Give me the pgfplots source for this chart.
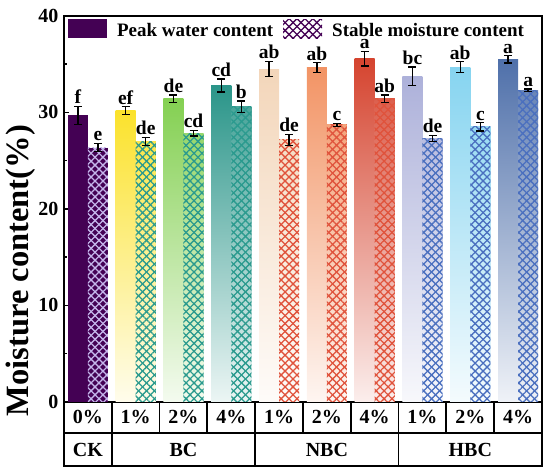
\documentclass[border=0pt]{standalone}
\usepackage{pgfplots}
\pgfplotsset{compat=1.18}
\usetikzlibrary{patterns.meta,calc}
\usepackage{fontspec}
\setmainfont{Liberation Serif}
\definecolor{CKc}{HTML}{440154}
\definecolor{CKh}{HTML}{C4B5EA}
\definecolor{BCa}{HTML}{FBE22C}
\definecolor{BCb}{HTML}{84D052}
\definecolor{BCc}{HTML}{2A9589}
\definecolor{BCh}{HTML}{2A9A8E}
\definecolor{NBa}{HTML}{F3D6BA}
\definecolor{NBb}{HTML}{F29465}
\definecolor{NBc}{HTML}{D5442F}
\definecolor{NBh}{HTML}{E0533C}
\definecolor{HBa}{HTML}{ADB1DA}
\definecolor{HBb}{HTML}{86D4F0}
\definecolor{HBc}{HTML}{4F70AA}
\definecolor{HBh}{HTML}{4A6FBF}
\newcommand{\hd}{5.6pt}
\newcommand{\hw}{1.3pt}
\pgfplotsset{
  hatch/.style={postaction={pattern color=#1, pattern={Lines[angle=45,distance=\hd,line width=\hw]}},
                postaction={pattern color=#1, pattern={Lines[angle=-45,distance=\hd,line width=\hw]}}},
  onebar/.style={ybar, forget plot, bar width=0.42, bar shift=0pt, draw=none},
  peakbar/.style={onebar, top color=#1, bottom color=#1!9!white},
  stableshade/.style={onebar, top color=#1!85!white, bottom color=#1!9!white},
  hatchonly/.style={onebar, fill=none, pattern color=#1, pattern={Lines[angle=45,distance=\hd,line width=\hw]},
                postaction={pattern color=#1, pattern={Lines[angle=-45,distance=\hd,line width=\hw]}}},
}
\newcommand{\lab}[3]{\node[anchor=south, inner sep=2.3pt, font=\fontsize{19.5}{22}\selectfont\bfseries] at (axis cs:#1,#2) {#3};}
\newcommand{\stab}[4]{%
  \addplot[stableshade=#1] coordinates {(#3,#4)};
  \addplot[hatchonly=#2] coordinates {(#3,#4)};
}
\begin{document}
\begin{tikzpicture}
\begin{axis}[
  scale only axis, width=478pt, height=385.7pt,
  xmin=-0.5, xmax=9.5, ymin=0, ymax=40,
  clip=false,
  axis line style={line width=1.8pt},
  xtick={0,...,9},
  xticklabels={0\%,1\%,2\%,4\%,1\%,2\%,4\%,1\%,2\%,4\%},
  x tick style={draw=none},
  xticklabel style={anchor=center, yshift=-15.6pt},
  ytick={0,10,20,30,40},
  minor ytick={5,15,25,35},
  ytick pos=left,
  tick align=inside,
  major tick length=5pt, minor tick length=3.5pt,
  y tick style={line width=1.5pt, black},
  yticklabel style={xshift=-2pt},
  tick label style={font=\fontsize{20}{24}\selectfont\bfseries},
  /pgf/number format/assume math mode=true,
  ylabel={Moisture content(\%)},
  ylabel style={font=\fontsize{32.5}{36}\selectfont\bfseries, at={(axis description cs:-0.091,0.34)}, anchor=center},
  legend style={at={(axis description cs:0.008,0.992)}, anchor=north west, draw=none, fill=none, inner sep=0pt,
     font=\fontsize{19}{22}\selectfont\bfseries, legend columns=2,
     nodes={inner ysep=1pt},
     /tikz/every even column/.append style={column sep=8pt}},
  legend image code/.code={\path[#1] (0pt,-8pt) rectangle (39pt,11pt);},
]
\addlegendimage{fill=CKc, draw=none}
\addlegendentry{\hspace{8pt}Peak water content}
\addlegendimage{fill=white, draw=none, hatch=CKc}
\addlegendentry{\hspace{8pt}Stable moisture content}

% peak bars
\addplot[onebar, fill=CKc] coordinates {(-0.21,29.7)};
\addplot[peakbar=BCa] coordinates {(0.79,30.2)};
\addplot[peakbar=BCb] coordinates {(1.79,31.4)};
\addplot[peakbar=BCc] coordinates {(2.79,32.8)};
\addplot[peakbar=NBa] coordinates {(3.79,34.5)};
\addplot[peakbar=NBb] coordinates {(4.79,34.65)};
\addplot[peakbar=NBc] coordinates {(5.79,35.55)};
\addplot[peakbar=HBa] coordinates {(6.79,33.75)};
\addplot[peakbar=HBb] coordinates {(7.79,34.7)};
\addplot[peakbar=HBc] coordinates {(8.79,35.5)};
% stable bars
\addplot[onebar, fill=CKc, hatch=CKh] coordinates {(0.21,26.35)};
\stab{BCa}{BCh}{1.21}{27.0}
\stab{BCb}{BCh}{2.21}{27.85}
\stab{BCc}{BCh}{3.21}{30.6}
\stab{NBa}{NBh}{4.21}{27.15}
\stab{NBb}{NBh}{5.21}{28.7}
\stab{NBc}{NBh}{6.21}{31.4}
\stab{HBa}{HBh}{7.21}{27.3}
\stab{HBb}{HBh}{8.21}{28.5}
\stab{HBc}{HBh}{9.21}{32.3}
% error bars
\addplot[forget plot, draw=none,
  error bars/.cd, y dir=both, y explicit,
  error bar style={draw=black, solid, line width=1.3pt},
  error mark options={draw=black, solid, rotate=90, mark size=4pt, line width=1.3pt}]
coordinates {
 (-0.21,29.7) +- (0,0.93)  (0.21,26.35) +- (0,0.43)
 (0.79,30.2) +- (0,0.38)   (1.21,27.0) +- (0,0.4)
 (1.79,31.4) +- (0,0.4)    (2.21,27.85) +- (0,0.28)
 (2.79,32.8) +- (0,0.68)   (3.21,30.6) +- (0,0.6)
 (3.79,34.5) +- (0,0.8)    (4.21,27.15) +- (0,0.55)
 (4.79,34.65) +- (0,0.5)   (5.21,28.7) +- (0,0.14)
 (5.79,35.55) +- (0,0.75)  (6.21,31.4) +- (0,0.4)
 (6.79,33.75) +- (0,0.95)  (7.21,27.3) +- (0,0.33)
 (7.79,34.7) +- (0,0.55)   (8.21,28.5) +- (0,0.43)
 (8.79,35.5) +- (0,0.38)   (9.21,32.3) +- (0,0.14)
};
% letters
\lab{-0.21}{30.63}{f}  \lab{0.21}{26.78}{e}
\lab{0.79}{30.58}{ef}  \lab{1.21}{27.4}{de}
\lab{1.79}{31.8}{de}   \lab{2.21}{28.13}{cd}
\lab{2.79}{33.48}{cd}  \lab{3.21}{31.2}{b}
\lab{3.79}{35.3}{ab}   \lab{4.21}{27.7}{de}
\lab{4.79}{35.15}{ab}  \lab{5.21}{28.84}{c}
\lab{5.79}{36.3}{a}    \lab{6.21}{31.8}{ab}
\lab{6.79}{34.7}{bc}   \lab{7.21}{27.63}{de}
\lab{7.79}{35.25}{ab}  \lab{8.21}{28.93}{c}
\lab{8.79}{35.88}{a}   \lab{9.21}{32.44}{a}
% table
\draw[line width=1.8pt] (axis cs:-0.5,0) -- (axis cs:-0.5,-6.67) -- (axis cs:9.5,-6.67) -- (axis cs:9.5,0);
\draw[line width=1.8pt] (axis cs:-0.5,-3.25) -- (axis cs:9.5,-3.25);
\pgfplotsinvokeforeach{0.5,1.5,2.5,3.5,4.5,5.5,6.5,7.5,8.5}{\draw[line width=1.8pt] (axis cs:#1,0) -- (axis cs:#1,-3.25);}
\pgfplotsinvokeforeach{0.5,3.5,6.5}{\draw[line width=1.8pt] (axis cs:#1,-3.25) -- (axis cs:#1,-6.67);}
\node[font=\fontsize{20}{24}\selectfont\bfseries] at (axis cs:0,-4.96) {CK};
\node[font=\fontsize{20}{24}\selectfont\bfseries] at (axis cs:2,-4.96) {BC};
\node[font=\fontsize{20}{24}\selectfont\bfseries] at (axis cs:5,-4.96) {NBC};
\node[font=\fontsize{20}{24}\selectfont\bfseries] at (axis cs:8,-4.96) {HBC};
\coordinate (O) at (rel axis cs:0,0);
\end{axis}
\pgfresetboundingbox
\path ($(O)+(-64pt,-72.3pt)$) rectangle ($(O)+(486pt,401.7pt)$);
\end{tikzpicture}
\end{document}
